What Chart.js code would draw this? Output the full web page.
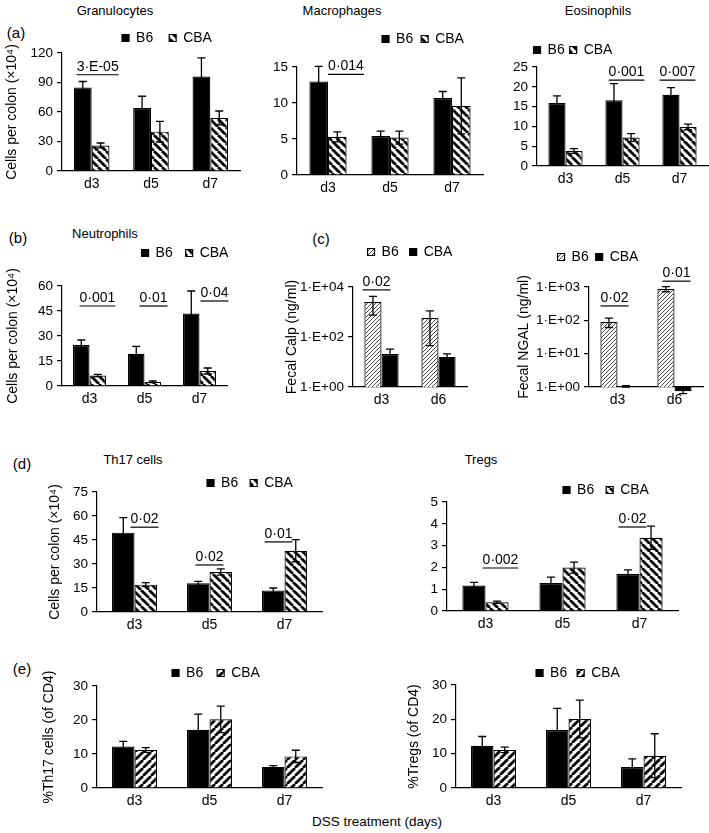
<!DOCTYPE html>
<html>
<head>
<meta charset="utf-8">
<script src="https://cdn.jsdelivr.net/npm/chart.js@4.4.1/dist/chart.umd.min.js"></script>
<style>
  body { margin: 0; background: #fff; }
  #fig { position: relative; width: 709px; height: 833px; overflow: hidden; background: #fff;
         font-family: "Liberation Sans", Arial, Helvetica, sans-serif; color: #000; }
  .t { position: absolute; transform: translate(-50%, -50%); font-size: 13px; white-space: nowrap; }
  .p { position: absolute; transform: translate(-50%, -50%); font-size: 15px; white-space: nowrap; }
  canvas { position: absolute; }
</style>
</head>
<body>
<div id="fig">
  <div class="p" style="left:16px;top:32px">(a)</div>
  <div class="t" style="left:115px;top:10px">Granulocytes</div>
  <div class="t" style="left:342px;top:10px">Macrophages</div>
  <div class="t" style="left:598px;top:10px">Eosinophils</div>
  <div class="p" style="left:18px;top:237px">(b)</div>
  <div class="t" style="left:105px;top:233px">Neutrophils</div>
  <div class="p" style="left:321px;top:238px">(c)</div>
  <div class="p" style="left:22px;top:463px">(d)</div>
  <div class="t" style="left:133px;top:459px">Th17 cells</div>
  <div class="t" style="left:481px;top:459px">Tregs</div>
  <div class="p" style="left:22px;top:668px">(e)</div>
  <div class="t" style="left:377px;top:821px;font-size:13.5px">DSS treatment (days)</div>
</div>
<script>
const FONT = '"Liberation Sans", Arial, Helvetica, sans-serif';
Chart.defaults.font.family = FONT;
Chart.defaults.color = '#000';
Chart.defaults.animation = false;

// Categories
const days = ['d3', 'd5', 'd7'];
const fecalDays = ['d3', 'd6'];

// (a) Granulocytes
const granB6 = [85, 64, 96];
const granB6Err = [6, 12, 19];
const granCBA = [26, 40, 54];
const granCBAErr = [2.5, 10.5, 7];
const granP = ['3·E-05', '', ''];
const granTicks = [0, 30, 60, 90, 120];

// (a) Macrophages
const macB6 = [13.0, 5.4, 10.7];
const macB6Err = [2.1, 0.7, 0.9];
const macCBA = [5.3, 5.2, 9.6];
const macCBAErr = [0.7, 0.9, 3.9];
const macP = ['0·014', '', ''];
const macTicks = [0, 5, 10, 15];

// (a) Eosinophils
const eosB6 = [15.9, 16.6, 18.0];
const eosB6Err = [1.8, 4.2, 1.8];
const eosCBA = [3.8, 7.2, 9.85];
const eosCBAErr = [0.6, 1.0, 0.7];
const eosP = ['', '0·001', '0·007'];
const eosTicks = [0, 5, 10, 15, 20, 25];

// (b) Neutrophils
const neuB6 = [24.6, 19.3, 43.5];
const neuB6Err = [3, 4.5, 13.5];
const neuCBA = [6.3, 2.5, 9.0];
const neuCBAErr = [0.7, 0.5, 1.8];
const neuP = ['0·001', '0·01', '0·04'];
const neuTicks = [0, 15, 30, 45, 60];

// (c) Fecal calprotectin
const calB6 = [2500, 575];
const calB6Err = [1750, 530];
const calCBA = [21, 16];
const calCBAErr = [12, 5];
const calP = ['0·02', ''];
const calTicks = [1, 100, 10000];
const calTickLabels = ['1·E+00', '1·E+02', '1·E+04'];

// (c) Fecal NGAL
const ngalB6 = [89, 870];
const ngalB6Err = [28, 150];
const ngalCBA = [1.05, 0.75];
const ngalCBAErr = [0.05, 0.12];
const ngalP = ['0·02', '0·01'];
const ngalTicks = [1, 10, 100, 1000];
const ngalTickLabels = ['1·E+00', '1·E+01', '1·E+02', '1·E+03'];

// (d) Th17 cells
const th17B6 = [49.6, 17.9, 13.5];
const th17B6Err = [9.4, 1.3, 1.5];
const th17CBA = [17.1, 25, 38.3];
const th17CBAErr = [1.3, 2, 6.9];
const th17P = ['0·02', '0·02', '0·01'];
const th17Ticks = [0, 15, 30, 45, 60, 75];

// (d) Tregs
const tregB6 = [1.17, 1.28, 1.70];
const tregB6Err = [0.14, 0.27, 0.19];
const tregCBA = [0.40, 1.99, 3.36];
const tregCBAErr = [0.05, 0.25, 0.53];
const tregP = ['0·002', '', '0·02'];
const tregTicks = [0, 1, 2, 3, 4, 5];

// (e) % of CD4
const pTh17B6 = [12.2, 17.1, 6.2];
const pTh17B6Err = [1.5, 4.6, 0.4];
const pTh17CBA = [11.2, 20.2, 9.3];
const pTh17CBAErr = [0.7, 3.9, 1.8];
const pTregB6 = [12.3, 16.9, 6.1];
const pTregB6Err = [2.7, 6.3, 2.4];
const pTregCBA = [11.1, 20.1, 9.4];
const pTregCBAErr = [0.8, 5.5, 6.4];
const pctTicks = [0, 10, 20, 30];

// Hatch fills
function stripes(dir, size, width, color) {
    const c = document.createElement('canvas');
    c.width = c.height = size;
    const g = c.getContext('2d');
    g.fillStyle = '#fff';
    g.fillRect(0, 0, size, size);
    g.strokeStyle = color;
    g.lineWidth = width;
    g.beginPath();
    for (const o of [-size, 0, size]) {
        if (dir === '/') { g.moveTo(o, size); g.lineTo(o + size, 0); }
        else { g.moveTo(o, 0); g.lineTo(o + size, size); }
    }
    g.stroke();
    return g.createPattern(c, 'repeat');
}
const backStripe = stripes('\\', 8, 2.8, '#000');
const fwdStripe = stripes('/', 8, 2.8, '#000');
const fineStripe = stripes('/', 4, 0.9, '#333');

// Error bars (mean +/- err) drawn through the y scale
const errorBars = {
    id: 'errorBars',
    afterDatasetsDraw(chart) {
        const ctx = chart.ctx;
        const yScale = chart.scales.y;
        ctx.save();
        ctx.strokeStyle = '#000';
        ctx.lineWidth = 1.3;
        chart.data.datasets.forEach((ds, di) => {
            chart.getDatasetMeta(di).data.forEach((bar, i) => {
                const v = ds.data[i], e = ds.errors[i];
                const yTop = yScale.getPixelForValue(v + e);
                const yBot = yScale.getPixelForValue(v - e);
                ctx.beginPath();
                ctx.moveTo(bar.x, yTop); ctx.lineTo(bar.x, yBot);
                ctx.moveTo(bar.x - 4, yTop); ctx.lineTo(bar.x + 4, yTop);
                ctx.moveTo(bar.x - 4, yBot); ctx.lineTo(bar.x + 4, yBot);
                ctx.stroke();
            });
        });
        ctx.restore();
    }
};

// Underlined p-values above the groups
const sigLabels = {
    id: 'sigLabels',
    afterDatasetsDraw(chart, args, opts) {
        if (!opts.texts) return;
        const ctx = chart.ctx;
        const xs = chart.scales.x, ys = chart.scales.y;
        ctx.save();
        ctx.font = '14px ' + FONT;
        ctx.fillStyle = '#000';
        ctx.strokeStyle = '#000';
        ctx.lineWidth = 1.2;
        ctx.textAlign = 'center';
        ctx.textBaseline = 'middle';
        opts.texts.forEach((txt, i) => {
            if (!txt) return;
            const x = xs.getPixelForValue(i) + opts.dx[i];
            const y = ys.getPixelForValue(opts.levels[i]);
            ctx.fillText(txt, x, y);
            const w = ctx.measureText(txt).width;
            ctx.beginPath();
            ctx.moveTo(x - w / 2, y + 8);
            ctx.lineTo(x + w / 2, y + 8);
            ctx.stroke();
        });
        ctx.restore();
    }
};

// Move the built-in legend to where it sits in the figure
const legendPlace = {
    id: 'legendPlace',
    afterLayout(chart, args, opts) {
        const lg = chart.legend;
        if (!lg) return;
        const w = lg.right - lg.left, h = lg.bottom - lg.top;
        lg.left = opts.x - w / 2; lg.right = lg.left + w;
        lg.top = opts.y - opts.pad - 7; lg.bottom = lg.top + h;
    }
};

const fig = document.getElementById('fig');

function barChart(o) {
    const [l, t, r, b] = o.plot;
    const left = Math.round(o.yTitle ? o.yTitleX - 10.4 : l - 45);
    const top = t - 70;
    const padL = o.yTitle ? o.yTitleX - 8.4 - left : 2;
    const yW = l - left - padL;
    const w = Math.round(r + 4 - left), h = Math.round(b - top + 24);
    const gap = o.legendGap;

    const canvas = document.createElement('canvas');
    canvas.width = w; canvas.height = h;
    canvas.style.left = left + 'px';
    canvas.style.top = top + 'px';
    fig.appendChild(canvas);

    return new Chart(canvas.getContext('2d'), {
        type: 'bar',
        data: {
            labels: o.labels,
            datasets: [
                { label: 'B6', data: o.b6, errors: o.b6Err, backgroundColor: o.b6Fill,
                  borderColor: '#000', borderWidth: 1.2, clip: false },
                { label: 'CBA', data: o.cba, errors: o.cbaErr, backgroundColor: o.cbaFill,
                  borderColor: '#000', borderWidth: 1.2, clip: false },
            ],
        },
        options: {
            responsive: false,
            devicePixelRatio: 1,
            barPercentage: 1,
            categoryPercentage: 0.6,
            layout: { padding: { left: padL, top: 46 - gap, right: 4, bottom: 0 } },
            scales: {
                x: {
                    offset: true,
                    grid: { display: false, drawTicks: false },
                    border: { color: '#000', width: 1.2 },
                    ticks: { font: { size: 14 }, padding: 5 },
                    afterFit: (s) => { s.height = 24; },
                },
                y: {
                    type: o.log ? 'logarithmic' : 'linear',
                    min: o.ticks[0],
                    max: o.ticks[o.ticks.length - 1],
                    afterBuildTicks: (s) => { s.ticks = o.ticks.map((v) => ({ value: v })); },
                    afterFit: (s) => { s.width = yW; },
                    ticks: {
                        font: { size: 13.5 }, padding: 4, autoSkip: false,
                        callback: (v, i) => (o.tickLabels ? o.tickLabels[i] : String(o.ticks[i])),
                    },
                    grid: { drawOnChartArea: false, tickLength: 5, color: '#000', lineWidth: 1.2 },
                    border: { color: '#000', width: 1.2 },
                    title: { display: !!o.yTitle, text: o.yTitle, font: { size: 14 }, padding: 0 },
                },
            },
            plugins: {
                tooltip: { enabled: false },
                legend: {
                    position: 'top',
                    labels: { boxWidth: 7, boxHeight: 7, padding: gap, font: { size: 14 } },
                },
                legendPlace: { x: o.legendAt[0] - left, y: o.legendAt[1] - top, pad: gap },
                sigLabels: o.sig || {},
            },
        },
        plugins: [errorBars, sigLabels, legendPlace],
    });
}

const cellsTitle = 'Cells per colon (×10⁴)';

barChart({ plot: [62, 53, 240, 171], yTitle: cellsTitle, yTitleX: 12, labels: days,
    b6: granB6, b6Err: granB6Err, cba: granCBA, cbaErr: granCBAErr,
    b6Fill: '#000', cbaFill: backStripe, ticks: granTicks,
    legendAt: [167, 38], legendGap: 16,
    sig: { texts: granP, levels: [106, 0, 0], dx: [6, 0, 0] } });

barChart({ plot: [297, 67, 483, 175], labels: days,
    b6: macB6, b6Err: macB6Err, cba: macCBA, cbaErr: macCBAErr,
    b6Fill: '#000', cbaFill: backStripe, ticks: macTicks,
    legendAt: [423, 39], legendGap: 8,
    sig: { texts: macP, levels: [15.1, 0, 0], dx: [18, 0, 0] } });

barChart({ plot: [537, 67, 708, 166], labels: days,
    b6: eosB6, b6Err: eosB6Err, cba: eosCBA, cbaErr: eosCBAErr,
    b6Fill: '#000', cbaFill: backStripe, ticks: eosTicks,
    legendAt: [573, 50], legendGap: 5,
    sig: { texts: eosP, levels: [0, 23.7, 23.7], dx: [0, 4, -2] } });

barChart({ plot: [62, 286, 227, 386], yTitle: cellsTitle, yTitleX: 13, labels: days,
    b6: neuB6, b6Err: neuB6Err, cba: neuCBA, cbaErr: neuCBAErr,
    b6Fill: '#000', cbaFill: backStripe, ticks: neuTicks,
    legendAt: [185, 253], legendGap: 13,
    sig: { texts: neuP, levels: [52.8, 52.8, 55.8], dx: [8, 9, 15] } });

barChart({ plot: [353, 287, 467, 387], yTitle: 'Fecal Calp (ng/ml)', yTitleX: 292, labels: fecalDays,
    b6: calB6, b6Err: calB6Err, cba: calCBA, cbaErr: calCBAErr,
    b6Fill: fineStripe, cbaFill: '#000', log: true, ticks: calTicks, tickLabels: calTickLabels,
    legendAt: [410, 252], legendGap: 11,
    sig: { texts: calP, levels: [16000, 1], dx: [-5, 0] } });

barChart({ plot: [589, 287, 703, 387], yTitle: 'Fecal NGAL (ng/ml)', yTitleX: 524, labels: fecalDays,
    b6: ngalB6, b6Err: ngalB6Err, cba: ngalCBA, cbaErr: ngalCBAErr,
    b6Fill: fineStripe, cbaFill: '#000', log: true, ticks: ngalTicks, tickLabels: ngalTickLabels,
    legendAt: [598, 257], legendGap: 7,
    sig: { texts: ngalP, levels: [470, 2600], dx: [-3, 2] } });

barChart({ plot: [97, 492, 322, 612], yTitle: cellsTitle, yTitleX: 55, labels: days,
    b6: th17B6, b6Err: th17B6Err, cba: th17CBA, cbaErr: th17CBAErr,
    b6Fill: '#000', cbaFill: backStripe, ticks: th17Ticks,
    legendAt: [250, 483], legendGap: 12,
    sig: { texts: th17P, levels: [58, 34.4, 48.8], dx: [10, 0, -6] } });

barChart({ plot: [447, 502, 678, 611], labels: days,
    b6: tregB6, b6Err: tregB6Err, cba: tregCBA, cbaErr: tregCBAErr,
    b6Fill: '#000', cbaFill: backStripe, ticks: tregTicks,
    legendAt: [606, 490], legendGap: 12,
    sig: { texts: tregP, levels: [2.34, 0, 4.22], dx: [15, 0, -7] } });

barChart({ plot: [97, 686, 322, 788], yTitle: '%Th17 cells (of CD4)', yTitleX: 49, labels: days,
    b6: pTh17B6, b6Err: pTh17B6Err, cba: pTh17CBA, cbaErr: pTh17CBAErr,
    b6Fill: '#000', cbaFill: fwdStripe, ticks: pctTicks,
    legendAt: [216, 673], legendGap: 14 });

barChart({ plot: [456, 685, 681, 788], yTitle: '%Tregs (of CD4)', yTitleX: 414, labels: days,
    b6: pTregB6, b6Err: pTregB6Err, cba: pTregCBA, cbaErr: pTregCBAErr,
    b6Fill: '#000', cbaFill: fwdStripe, ticks: pctTicks,
    legendAt: [578, 673], legendGap: 10 });
</script>
</body>
</html>
